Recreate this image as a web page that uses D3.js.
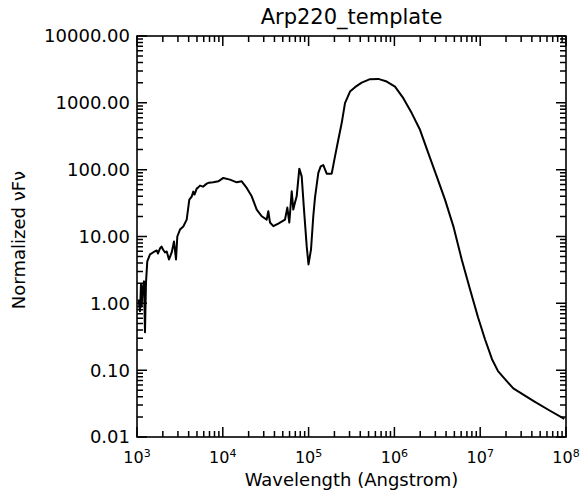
<!DOCTYPE html>
<html>
<head>
<meta charset="utf-8">
<script src="https://cdn.jsdelivr.net/npm/d3@7"></script>
<style>
  body { margin: 0; background: #fff; }
  text { font-family: "DejaVu Sans", sans-serif; fill: #000; }
</style>
</head>
<body>
<div id="chart"></div>
<script>
"use strict";

// spectrum (Angstrom, normalized nuFnu)
var wavelength = [1041, 1084, 1113, 1134, 1159, 1207, 1239, 1273, 1318, 1418, 1537,
  1697, 1757, 1854, 1930, 2009, 2120, 2219, 2360, 2538, 2699, 2849, 2950, 3171,
  3465, 3795, 4071, 4340, 4531, 4680, 4964, 5140, 5424, 5878, 6493, 6905, 7750, 8863,
  10135, 12134, 14521, 16610, 19000, 21720, 24840, 28410, 32490, 33910,
  35490, 38790, 44360, 53090, 56470, 59590, 63550, 66330, 69420, 72650,
  77930, 83090, 88380, 95030, 99730, 106700, 113400, 118700, 129800, 138400,
  148400, 162500, 185900, 203100, 221900, 243100, 265600, 303800, 347400, 415700,
  519600, 649300, 813500, 1016000, 1270000, 1591000, 1988000, 2484000, 3112000, 3888000,
  4859000, 6087000, 7605000, 9428000, 11370000, 13730000, 16130000, 19450000, 24310000, 41580000,
  65100000, 95550000];

var flux = [1.15, 0.76, 1.92, 0.9, 1.62, 2.13, 0.37, 2.06, 4.24, 5.39, 5.77,
  6.18, 5.57, 6.62, 7.09, 6.40, 5.77, 5.97, 4.54, 5.77, 8.41, 4.54, 10.0, 12.7,
  14.1, 17.9, 35.6, 39.5, 47.0, 42.4, 52.0, 53.8, 57.7, 55.7, 61.8, 63.9, 64.6, 66.9,
  75.2, 71.0, 64.6, 66.9, 53.3, 39.9, 25.3, 20.1, 17.9, 23.9,
  16.2, 14.3, 15.6, 17.9, 27.1, 16.2, 47.4, 25.3, 32.2, 39.9,
  103.5, 79.4, 25.3, 7.16, 3.82, 6.40, 20.1, 38.2, 89.3, 112,
  117, 87.1, 87.1, 158, 280, 498, 990, 1476, 1715, 2010,
  2259, 2282, 2080, 1750, 1175, 702, 395, 177, 79.4, 35.6,
  14.3, 4.54, 1.62, 0.618, 0.290, 0.146, 0.0966, 0.0734, 0.0533, 0.0348,
  0.0247, 0.0186];

var xExponents = [3, 4, 5, 6, 7, 8];
var yTicks = [0.01, 0.1, 1, 10, 100, 1000, 10000];
var yTickLabels = ["0.01", "0.10", "1.00", "10.00", "100.00", "1000.00", "10000.00"];

var width = 582,
  height = 493;
var plotLeft = 137, plotRight = 566, plotTop = 36, plotBottom = 437;
var majorLen = 10, minorLen = 6;

var svg = d3.select("#chart").append("svg")
  .attr("width", width)
  .attr("height", height);

var x = d3.scaleLog().domain([1e3, 1e8]).range([plotLeft, plotRight]);
var y = d3.scaleLog().domain([0.01, 10000]).range([plotBottom, plotTop]);

// tick marks: majors at each decade, minors at 2..9
var xTickMarks = [];
xExponents.forEach(function(e, i) {
  var base = Math.pow(10, e);
  xTickMarks.push({ v: base, len: majorLen });
  if (i < xExponents.length - 1) {
    for (var k = 2; k <= 9; k++) xTickMarks.push({ v: k * base, len: minorLen });
  }
});
var yTickMarks = [];
yTicks.forEach(function(v, i) {
  yTickMarks.push({ v: v, len: majorLen });
  if (i < yTicks.length - 1) {
    for (var k = 2; k <= 9; k++) yTickMarks.push({ v: k * v, len: minorLen });
  }
});

var tickPath = "";
xTickMarks.forEach(function(t) {
  var px = x(t.v);
  tickPath += "M" + px + "," + plotBottom + "V" + (plotBottom - t.len);
  tickPath += "M" + px + "," + plotTop + "V" + (plotTop + t.len);
});
yTickMarks.forEach(function(t) {
  var py = y(t.v);
  tickPath += "M" + plotLeft + "," + py + "H" + (plotLeft + t.len);
  tickPath += "M" + plotRight + "," + py + "H" + (plotRight - t.len);
});

svg.append("path")
  .attr("d", tickPath)
  .attr("fill", "none")
  .attr("stroke", "#000")
  .attr("stroke-width", 1.5);

// frame
svg.append("rect")
  .attr("x", plotLeft).attr("y", plotTop)
  .attr("width", plotRight - plotLeft).attr("height", plotBottom - plotTop)
  .attr("fill", "none")
  .attr("stroke", "#000")
  .attr("stroke-width", 1.6);

// spectrum
var line = d3.line()
  .x(function(d) { return x(d[0]); })
  .y(function(d) { return y(d[1]); });

svg.append("path")
  .datum(d3.zip(wavelength, flux))
  .attr("fill", "none")
  .attr("stroke", "#000")
  .attr("stroke-width", 2)
  .attr("stroke-linejoin", "round")
  .attr("d", line);

// y tick labels
svg.selectAll("text.ylab")
  .data(yTicks)
  .enter()
  .append("text")
  .attr("class", "ylab")
  .attr("x", 130)
  .attr("y", function(d) { return y(d); })
  .attr("dy", "0.36em")
  .attr("text-anchor", "end")
  .style("font-size", "18px")
  .text(function(d, i) { return yTickLabels[i]; });

// x tick labels, 10 with superscript exponent
var xl = svg.selectAll("text.xlab")
  .data(xExponents)
  .enter()
  .append("text")
  .attr("class", "xlab")
  .attr("x", function(d) { return x(Math.pow(10, d)); })
  .attr("y", 463)
  .attr("text-anchor", "middle")
  .style("font-size", "16px");
xl.append("tspan").text("10");
xl.append("tspan")
  .attr("dy", -6)
  .style("font-size", "11px")
  .text(function(d) { return d; });

svg.append("text")
  .attr("x", (plotLeft + plotRight) / 2)
  .attr("y", 486)
  .attr("text-anchor", "middle")
  .style("font-size", "18px")
  .text("Wavelength (Angstrom)");

svg.append("text")
  .attr("transform", "translate(25," + 240 + ") rotate(-90)")
  .attr("text-anchor", "middle")
  .style("font-size", "18px")
  .text("Normalized \u03bdF\u03bd");

svg.append("text")
  .attr("x", (plotLeft + plotRight) / 2)
  .attr("y", 24)
  .attr("text-anchor", "middle")
  .style("font-size", "21px")
  .text("Arp220_template");
</script>
</body>
</html>
